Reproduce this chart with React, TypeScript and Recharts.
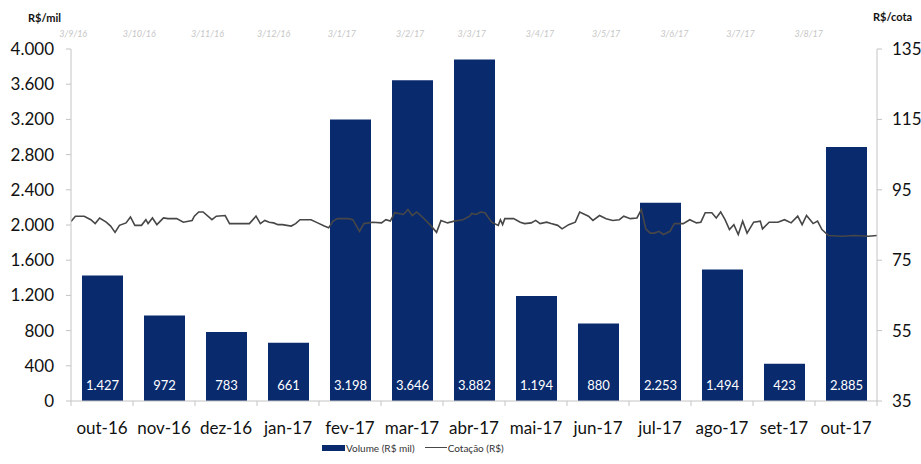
import {
  Bar,
  ComposedChart,
  LabelList,
  Legend,
  Line,
  XAxis,
  YAxis,
} from "recharts";

const MONTHS = [
  "out-16",
  "nov-16",
  "dez-16",
  "jan-17",
  "fev-17",
  "mar-17",
  "abr-17",
  "mai-17",
  "jun-17",
  "jul-17",
  "ago-17",
  "set-17",
  "out-17",
];

const VOLUME = [1427, 972, 783, 661, 3198, 3646, 3882, 1194, 880, 2253, 1494, 423, 2885];

const VOLUME_TICKS = [0, 400, 800, 1200, 1600, 2000, 2400, 2800, 3200, 3600, 4000];
const PRICE_TICKS = [35, 55, 75, 95, 115, 135];

const DATE_TICKS = [
  "2016-09-03",
  "2016-10-03",
  "2016-11-03",
  "2016-12-03",
  "2017-01-03",
  "2017-02-03",
  "2017-03-03",
  "2017-04-03",
  "2017-05-03",
  "2017-06-03",
  "2017-07-03",
  "2017-08-03",
];
const DATE_DOMAIN = ["2016-09-02", "2017-09-03"];

const PRICE_DATES = [
  "2016-09-02", "2016-09-04", "2016-09-08", "2016-09-11", "2016-09-13", "2016-09-15",
  "2016-09-18", "2016-09-20", "2016-09-22", "2016-09-24", "2016-09-27", "2016-09-29",
  "2016-10-01", "2016-10-04", "2016-10-06", "2016-10-07", "2016-10-09", "2016-10-11",
  "2016-10-14", "2016-10-16", "2016-10-20", "2016-10-23", "2016-10-27", "2016-10-28",
  "2016-10-30", "2016-11-01", "2016-11-05", "2016-11-07", "2016-11-11", "2016-11-13",
  "2016-11-18", "2016-11-22", "2016-11-25", "2016-11-27", "2016-11-29", "2016-12-01",
  "2016-12-03", "2016-12-05", "2016-12-07", "2016-12-11", "2016-12-13", "2016-12-15",
  "2016-12-20", "2016-12-23", "2016-12-26", "2016-12-28", "2016-12-30", "2017-01-01",
  "2017-01-06", "2017-01-08", "2017-01-11", "2017-01-13", "2017-01-17", "2017-01-21",
  "2017-01-23", "2017-01-25", "2017-01-27", "2017-01-31", "2017-02-02", "2017-02-04",
  "2017-02-06", "2017-02-09", "2017-02-12", "2017-02-15", "2017-02-17", "2017-02-20",
  "2017-02-23", "2017-02-27", "2017-03-02", "2017-03-03", "2017-03-05", "2017-03-07",
  "2017-03-09", "2017-03-12", "2017-03-15", "2017-03-16", "2017-03-17", "2017-03-18",
  "2017-03-22", "2017-03-25", "2017-03-27", "2017-03-30", "2017-04-01", "2017-04-03",
  "2017-04-06", "2017-04-08", "2017-04-11", "2017-04-13", "2017-04-16", "2017-04-19",
  "2017-04-21", "2017-04-25", "2017-04-27", "2017-04-30", "2017-05-03", "2017-05-06",
  "2017-05-09", "2017-05-11", "2017-05-14", "2017-05-17", "2017-05-19", "2017-05-21",
  "2017-05-23", "2017-05-25", "2017-05-27", "2017-05-29", "2017-06-01", "2017-06-03",
  "2017-06-07", "2017-06-10", "2017-06-13", "2017-06-15", "2017-06-17", "2017-06-20",
  "2017-06-22", "2017-06-24", "2017-06-26", "2017-06-28", "2017-06-30", "2017-07-02",
  "2017-07-04", "2017-07-06", "2017-07-09", "2017-07-12", "2017-07-13", "2017-07-16",
  "2017-07-20", "2017-07-23", "2017-07-26", "2017-07-29", "2017-07-31", "2017-08-02",
  "2017-08-05", "2017-08-07", "2017-08-09", "2017-08-12", "2017-08-18", "2017-08-24",
  "2017-08-30", "2017-09-03",
];

const PRICE_VALUES = [
  86.0, 87.5, 87.5, 86.5, 85.4, 87.0,
  85.8, 84.7, 82.9, 84.9, 85.6, 87.3,
  84.9, 84.9, 86.5, 85.4, 87.0, 85.1,
  87.0, 86.8, 86.8, 85.8, 86.3, 87.5,
  88.7, 88.7, 86.5, 87.5, 87.7, 85.4,
  85.4, 85.4, 87.5, 85.4, 86.3, 85.8,
  85.6, 85.1, 85.1, 84.7, 85.4, 86.5,
  86.5, 85.6, 84.7, 84.2, 86.1, 86.8,
  86.8, 86.5, 83.2, 85.4, 85.8, 85.6,
  86.5, 86.1, 88.5, 88.0, 89.4, 87.7,
  88.7, 87.0, 85.1, 82.9, 86.3, 85.6,
  86.1, 86.5, 87.5, 88.3, 88.0, 88.7,
  88.5, 85.8, 84.9, 86.5, 85.1, 86.8,
  86.8, 85.8, 85.4, 85.6, 86.3, 85.4,
  85.8, 85.4, 84.9, 83.9, 85.1, 85.8,
  88.7, 87.5, 86.3, 87.7, 86.8, 86.3,
  86.5, 87.5, 86.8, 87.0, 89.4, 83.9,
  82.7, 82.7, 83.2, 82.3, 83.2, 85.4,
  85.4, 86.5, 85.6, 85.8, 88.5, 88.5,
  87.0, 88.7, 86.5, 83.7, 85.1, 82.3,
  86.1, 82.7, 85.8, 86.1, 83.9, 85.8,
  85.8, 86.5, 85.6, 87.5, 85.1, 87.7,
  85.4, 86.1, 83.7, 82.0, 81.8, 82.0,
  81.8, 82.0,
];

const WIDTH = 921;
const HEIGHT = 464;
const LEFT_AXIS_W = 71;
const RIGHT_AXIS_W = 44;
const BAND = (WIDTH - LEFT_AXIS_W - RIGHT_AXIS_W) / MONTHS.length;

const FONT = "Lato, 'Open Sans', sans-serif";
const BAR_COLOR = "#0a2a6e";
const LINE_COLOR = "#474747";
const AXIS_COLOR = "#c4c4c4";

const barData = MONTHS.map((month, i) => ({ month, volume: VOLUME[i] }));
const priceData = PRICE_DATES.map((d, i) => ({ t: Date.parse(d), price: PRICE_VALUES[i] }));

const fmtThousands = (v: number) =>
  String(v).replace(/\B(?=(\d{3})+(?!\d))/g, ".");

const fmtDate = (t: number) => {
  const d = new Date(t);
  return `${d.getUTCDate()}/${d.getUTCMonth() + 1}/${String(d.getUTCFullYear()).slice(2)}`;
};

const MonthTick = ({ x, y, payload, index }: any) => (
  <g>
    <line x1={x - BAND / 2} x2={x - BAND / 2} y1={y} y2={y + 5} stroke={AXIS_COLOR} />
    {index === MONTHS.length - 1 && (
      <line x1={x + BAND / 2} x2={x + BAND / 2} y1={y} y2={y + 5} stroke={AXIS_COLOR} />
    )}
    <text x={x} y={y + 33} textAnchor="middle" fill="#111" fontSize={17} fontFamily={FONT}>
      {payload.value}
    </text>
  </g>
);

const ChartLegend = () => (
  <div
    style={{
      display: "flex",
      alignItems: "center",
      height: 33,
      paddingLeft: 322,
      fontFamily: FONT,
      fontSize: 10,
      color: "#333",
    }}
  >
    <span style={{ display: "inline-block", width: 23, height: 6, background: BAR_COLOR }} />
    <span style={{ marginLeft: 1, marginRight: 10 }}>Volume (R$ mil)</span>
    <span style={{ display: "inline-block", width: 22, height: 1.5, background: LINE_COLOR }} />
    <span style={{ marginLeft: 1 }}>Cotação (R$)</span>
  </div>
);

export default function App() {
  return (
    <div style={{ position: "relative", width: WIDTH, height: HEIGHT, fontFamily: FONT }}>
      <style>{"body{margin:0}"}</style>
      <span
        style={{
          position: "absolute",
          left: 28,
          top: 11,
          fontSize: 11,
          fontWeight: 700,
          color: "#111",
        }}
      >
        R$/mil
      </span>
      <span
        style={{
          position: "absolute",
          left: 873,
          top: 10,
          fontSize: 11,
          fontWeight: 700,
          color: "#111",
        }}
      >
        R$/cota
      </span>
      <ComposedChart
        width={WIDTH}
        height={HEIGHT}
        data={barData}
        margin={{ top: 25, right: 0, bottom: 0, left: 0 }}
      >
        <XAxis
          xAxisId="month"
          dataKey="month"
          height={30}
          axisLine={{ stroke: AXIS_COLOR }}
          tickLine={false}
          tickSize={0}
          tickMargin={0}
          tick={<MonthTick />}
          interval={0}
        />
        <XAxis
          xAxisId="date"
          dataKey="t"
          type="number"
          orientation="top"
          domain={DATE_DOMAIN.map((d) => Date.parse(d))}
          allowDataOverflow
          ticks={DATE_TICKS.map((d) => Date.parse(d))}
          tickFormatter={fmtDate}
          interval={0}
          height={24}
          axisLine={false}
          tickLine={false}
          tickMargin={6}
          tick={{ fill: "#c6c6c6", fontSize: 9, fontStyle: "italic", fontFamily: FONT }}
        />
        <YAxis
          yAxisId="volume"
          width={LEFT_AXIS_W}
          domain={[0, 4000]}
          ticks={VOLUME_TICKS}
          interval={0}
          tickFormatter={fmtThousands}
          axisLine={{ stroke: AXIS_COLOR }}
          tickLine={{ stroke: AXIS_COLOR }}
          tickSize={5}
          tickMargin={12}
          tick={{ fill: "#111", fontSize: 17, fontFamily: FONT }}
        />
        <YAxis
          yAxisId="price"
          orientation="right"
          width={RIGHT_AXIS_W}
          domain={[35, 135]}
          ticks={PRICE_TICKS}
          interval={0}
          axisLine={{ stroke: AXIS_COLOR }}
          tickLine={{ stroke: AXIS_COLOR }}
          tickSize={5}
          tickMargin={10}
          tick={{ fill: "#111", fontSize: 17, fontFamily: FONT }}
        />
        <Bar
          xAxisId="month"
          yAxisId="volume"
          dataKey="volume"
          name="Volume (R$ mil)"
          fill={BAR_COLOR}
          barSize={41}
          isAnimationActive={false}
        >
          <LabelList
            dataKey="volume"
            position="insideBottom"
            offset={11}
            formatter={(v: any) => fmtThousands(Number(v))}
            fill="#ffffff"
            fontSize={13}
            fontFamily={FONT}
          />
        </Bar>
        <Line
          xAxisId="date"
          yAxisId="price"
          data={priceData}
          dataKey="price"
          name="Cotação (R$)"
          stroke={LINE_COLOR}
          strokeWidth={1.6}
          dot={false}
          activeDot={false}
          type="linear"
          isAnimationActive={false}
        />
        <Legend verticalAlign="bottom" height={33} content={<ChartLegend />} />
      </ComposedChart>
    </div>
  );
}
